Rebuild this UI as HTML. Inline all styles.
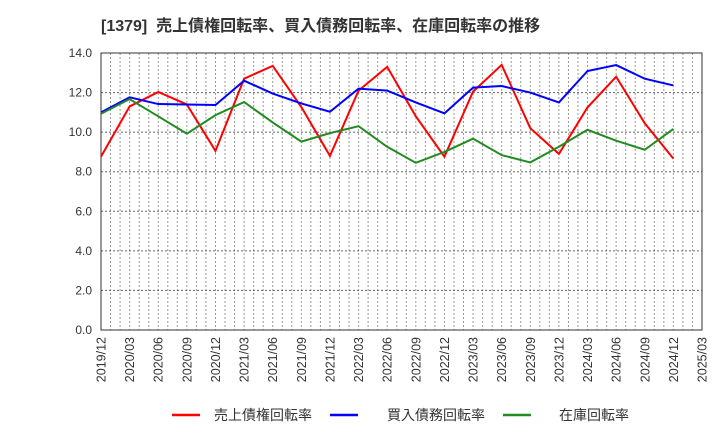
<!DOCTYPE html>
<html><head><meta charset="utf-8"><style>
body{margin:0;background:#fff}
svg{display:block;font-family:"Liberation Sans","Noto Sans CJK JP",sans-serif}
</style></head><body>
<svg width="720" height="440">
<text x="101" y="31" font-size="16" font-weight="bold" fill="#333" xml:space="preserve">[1379]  売上債権回転率、買入債務回転率、在庫回転率の推移</text>
<g id="grid"></g><g id="axes"></g><g id="series"></g>
<g>
<g><line x1="172" y1="415" x2="200" y2="415" stroke="#f00" stroke-width="2.5"/><text x="214" y="420" font-size="14" fill="#333">売上債権回転率</text></g>
<g><line x1="330" y1="415" x2="358" y2="415" stroke="#00f" stroke-width="2.5"/><text x="387" y="420" font-size="14" fill="#333">買入債務回転率</text></g>
<g><line x1="503" y1="415" x2="531" y2="415" stroke="#228b22" stroke-width="2.5"/><text x="559" y="420" font-size="14" fill="#333">在庫回転率</text></g>
</g>
</svg>
<script>
const xLabels=["2019/12","2020/03","2020/06","2020/09","2020/12","2021/03","2021/06","2021/09","2021/12","2022/03","2022/06","2022/09","2022/12","2023/03","2023/06","2023/09","2023/12","2024/03","2024/06","2024/09","2024/12","2025/03"];
const yTicks=[0,2,4,6,8,10,12,14];
const receivables=[8.76,11.3,12.03,11.4,9.05,12.7,13.35,11.27,8.8,12.1,13.3,10.8,8.76,12.05,13.4,10.2,8.9,11.25,12.8,10.45,8.66];
const payables=[11.0,11.76,11.42,11.4,11.37,12.6,11.95,11.45,11.03,12.2,12.1,11.5,10.95,12.25,12.33,12.0,11.5,13.09,13.39,12.7,12.36];
const inventory=[10.93,11.67,10.8,9.92,10.86,11.52,10.49,9.52,9.95,10.3,9.26,8.45,9.0,9.67,8.84,8.47,9.26,10.12,9.57,9.11,10.16];
const L=101,R=702,T=53,B=330,NS="http://www.w3.org/2000/svg";
const nQ=xLabels.length-1;
const xq=i=>L+(R-L)*i/nQ;
const y=v=>B-(B-T)*v/14;
function mk(tag,attrs,parent){const e=document.createElementNS(NS,tag);for(const k in attrs)e.setAttribute(k,attrs[k]);parent.appendChild(e);return e;}
const grid=document.getElementById('grid'),axes=document.getElementById('axes'),ser=document.getElementById('series');
for(let m=1;m<nQ*3;m++){const x=L+(R-L)*m/(nQ*3);const l=mk('line',{x1:x,x2:x,y1:T,y2:B,stroke:'#999','stroke-dasharray':'2,2','stroke-width':1},grid);

}
yTicks.forEach(v=>{if(v>0&&v<14){const l=mk('line',{x1:L,x2:R,y1:y(v),y2:y(v),stroke:'#666','stroke-dasharray':'2,2','stroke-width':1},grid);

}
const t=mk('text',{x:L-9,y:y(v)+4,'font-size':12,'text-anchor':'end',fill:'#333'},axes);t.textContent=v.toFixed(1);

});
const frame=mk('rect',{x:L,y:T,width:R-L,height:B-T,fill:'none',stroke:'#333','stroke-width':1},axes);


xLabels.forEach((s,i)=>{const x=xq(i)+4.5;const t=mk('text',{x:0,y:0,'font-size':12.5,'text-anchor':'end',fill:'#333',transform:`translate(${x},337) rotate(-90)`},axes);t.textContent=s;

});
[[receivables,'#f00','series-receivables'],[payables,'#00f','series-payables'],[inventory,'#228b22','series-inventory']].forEach(([d,c,n])=>{
const p=mk('polyline',{points:d.map((v,i)=>xq(i)+','+y(v)).join(' '),fill:'none',stroke:c,'stroke-width':2},ser);

});
</script>
</body></html>
